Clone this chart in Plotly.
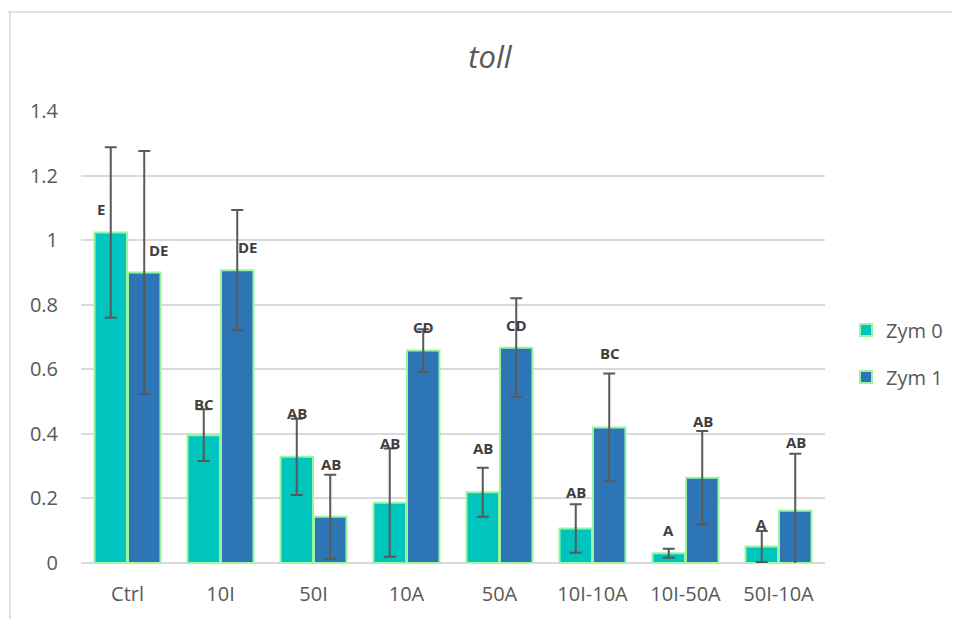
import plotly.graph_objects as go

categories = ["Ctrl", "10I", "50I", "10A", "50A", "10I-10A", "10I-50A", "50I-10A"]
zym0 = [1.024, 0.396, 0.329, 0.187, 0.219, 0.107, 0.030, 0.051]
zym0_err = [0.264, 0.080, 0.118, 0.168, 0.076, 0.075, 0.014, 0.048]
zym1 = [0.900, 0.907, 0.143, 0.658, 0.667, 0.420, 0.264, 0.162]
zym1_err = [0.376, 0.186, 0.130, 0.066, 0.153, 0.167, 0.145, 0.176]
zym0_letters = ["E", "BC", "AB", "AB", "AB", "AB", "A", "A"]
zym1_letters = ["DE", "DE", "AB", "CD", "CD", "BC", "AB", "AB"]
zym0_letter_y = [1.096, 0.492, 0.465, 0.372, 0.356, 0.220, 0.102, 0.121]
zym1_letter_y = [0.969, 0.979, 0.307, 0.731, 0.737, 0.650, 0.440, 0.375]
y_ticks = [0, 0.2, 0.4, 0.6, 0.8, 1, 1.2, 1.4]
y_tick_text = ["0", "0.2", "0.4", "0.6", "0.8", "1", "1.2", "1.4"]

TEAL = "#00C4BE"
BLUE = "#2E75B6"
OUTLINE = "#9AF59E"
GRAY = "#595959"
FONT = "Open Sans"

fig = go.Figure()
fig.add_trace(go.Bar(
    name="Zym 0", x=categories, y=zym0,
    marker=dict(color=TEAL, line=dict(color=OUTLINE, width=2)),
    error_y=dict(type="data", array=zym0_err, color=GRAY, thickness=2, width=6),
    legend="legend", showlegend=True,
))
fig.add_trace(go.Bar(
    name="Zym 1", x=categories, y=zym1,
    marker=dict(color=BLUE, line=dict(color=OUTLINE, width=2)),
    error_y=dict(type="data", array=zym1_err, color=GRAY, thickness=2, width=6),
    legend="legend2", showlegend=True,
))

# letter annotations
extra0 = [-10, 0, 0, 0, 0, 0, 0, 0]
extra1 = [14, 10, 0, 0, 0, 0, 0, 0]
annotations = []
for i, c in enumerate(categories):
    annotations.append(dict(x=c, y=zym0_letter_y[i], text=zym0_letters[i], showarrow=False,
                            xshift=-17 + extra0[i],
                            font=dict(family=FONT, size=15, color="#404040", weight="bold")))
    annotations.append(dict(x=c, y=zym1_letter_y[i], text=zym1_letters[i], showarrow=False,
                            xshift=17 + extra1[i],
                            font=dict(family=FONT, size=15, color="#404040", weight="bold")))

# page body has an 8px offset; target pixel positions are in screenshot coordinates
OFF = 8
W, H = 960, 619
L, T = 81 - OFF, 111 - OFF
R = W - (825 - OFF)
B = H - (563 - OFF)
pw, ph = W - L - R, H - T - B

def px_x(p):
    return (p - OFF - L) / pw

def px_y(p):
    return (H - B - (p - OFF)) / ph

shapes = [
    dict(type="line", xref="paper", yref="paper", x0=px_x(5), x1=px_x(970), y0=px_y(12), y1=px_y(12),
         line=dict(color="#D9D9D9", width=1.5)),
    dict(type="line", xref="paper", yref="paper", x0=px_x(10), x1=px_x(10), y0=px_y(12), y1=px_y(630),
         line=dict(color="#D9D9D9", width=1.5)),
]

fig.update_layout(
    width=W, height=H,
    margin=dict(l=L, r=R, t=T, b=B),
    paper_bgcolor="white", plot_bgcolor="white",
    showlegend=True,
    barmode="group", bargap=0.28, bargroupgap=0.03,
    title=dict(text="toll", x=(490 - OFF) / W, xanchor="center", y=1 - (57 - OFF) / H, yanchor="middle",
               font=dict(family=FONT, size=31, color=GRAY, style="italic")),
    font=dict(family=FONT, size=20, color=GRAY),
    xaxis=dict(showgrid=False, showline=False, ticks="", ticklabelstandoff=17,
               tickfont=dict(family=FONT, size=20, color=GRAY)),
    yaxis=dict(range=[0, 1.4], tickvals=y_ticks, ticktext=y_tick_text, showgrid=True,
               gridcolor="#D9D9D9", gridwidth=1.5, zeroline=True, zerolinecolor="#D9D9D9",
               zerolinewidth=1.5, showline=False, ticks="", ticklabelstandoff=22,
               tickfont=dict(family=FONT, size=20, color=GRAY)),
    legend=dict(x=px_x(846), y=px_y(330), xanchor="left", yanchor="middle",
                font=dict(family=FONT, size=20, color=GRAY), bgcolor="rgba(0,0,0,0)"),
    legend2=dict(x=px_x(846), y=px_y(377), xanchor="left", yanchor="middle",
                 font=dict(family=FONT, size=20, color=GRAY), bgcolor="rgba(0,0,0,0)"),
    annotations=annotations,
    shapes=shapes,
)

fig.write_html("out.html")
